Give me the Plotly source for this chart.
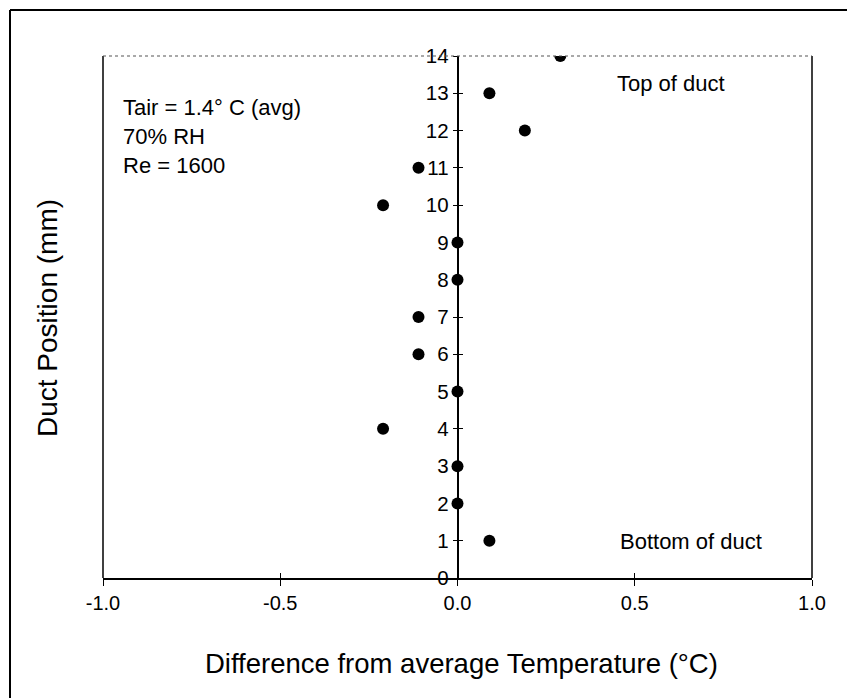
import plotly.graph_objects as go

# Duct positions (mm) and temperature difference from the average (°C)
positions = [14, 13, 12, 11, 10, 9, 8, 7, 6, 5, 4, 3, 2, 1]
temp_diff = [0.29, 0.09, 0.19, -0.11, -0.21, 0.0, 0.0, -0.11, -0.11, 0.0, -0.21, 0.0, 0.0, 0.09]

x_ticks = [-1.0, -0.5, 0.0, 0.5, 1.0]
y_ticks = list(range(0, 15))

W, H = 848, 698
L, R, T, B = 103, 36, 56, 120
PW, PH = W - L - R, H - T - B


def px(xp):
    return (xp - L) / PW


def py(yp):
    return (H - B - yp) / PH


FONT = "Liberation Sans, Arial, Helvetica, sans-serif"

fig = go.Figure()
fig.add_trace(go.Scatter(
    x=temp_diff, y=positions, mode="markers",
    marker=dict(size=12, color="black"),
    showlegend=False, hoverinfo="x+y",
))

axis_common = dict(linecolor="black", linewidth=1.5, showgrid=False, zeroline=False,
                   tickcolor="black", tickwidth=1)

fig.update_layout(
    width=W, height=H,
    margin=dict(l=L, r=R, t=T, b=B),
    paper_bgcolor="white", plot_bgcolor="white",
    font=dict(family=FONT, color="black"),
    xaxis=dict(range=[-1, 1], tickvals=x_ticks, ticktext=[f"{v:.1f}" for v in x_ticks],
               showline=True, ticks="outside", ticklen=6,
               tickfont=dict(size=20), **axis_common),
    xaxis2=dict(range=[-1, 1], tickvals=x_ticks, overlaying="x", anchor="y",
                side="bottom", showline=False, ticks="inside", ticklen=5,
                showticklabels=False, **axis_common),
    yaxis=dict(range=[0, 14], tickvals=y_ticks, anchor="free", position=0.5,
               showline=True, ticks="outside", ticklen=4,
               tickfont=dict(size=20.5), **axis_common),
    yaxis2=dict(range=[0, 14], tickvals=y_ticks, overlaying="y", anchor="free",
                position=0.5, showline=False, ticks="inside", ticklen=4,
                showticklabels=False, **axis_common),
)

# invisible trace so the inside-tick axes are drawn
fig.add_trace(go.Scatter(x=[None], y=[None], xaxis="x2", yaxis="y2",
                         showlegend=False, hoverinfo="skip"))

shapes = [
    # plot frame: left and right sides solid, top dotted
    dict(type="line", xref="paper", yref="paper", x0=0, x1=0, y0=0, y1=1,
         line=dict(color="black", width=1.5)),
    dict(type="line", xref="paper", yref="paper", x0=1, x1=1, y0=0, y1=1,
         line=dict(color="black", width=1.5)),
    dict(type="line", xref="paper", yref="paper", x0=0, x1=1, y0=1, y1=1,
         line=dict(color="#555555", width=1.2, dash="dot")),
    # outer border of the figure
    dict(type="line", xref="paper", yref="paper", x0=px(10), x1=px(10), y0=py(10), y1=py(698),
         line=dict(color="black", width=2)),
    dict(type="line", xref="paper", yref="paper", x0=px(10), x1=px(847), y0=py(10), y1=py(10),
         line=dict(color="black", width=2)),
]
fig.update_layout(shapes=shapes)

notes = [
    ("Tair = 1.4° C (avg)", 121, 107),
    ("70% RH", 121, 136),
    ("Re = 1600", 121, 165),
    ("Top of duct", 615, 83),
    ("Bottom of duct", 618, 541),
]
annotations = [
    dict(text=t, xref="paper", yref="paper", x=px(xp), y=py(yp), xanchor="left",
         yanchor="middle", showarrow=False, font=dict(size=22))
    for t, xp, yp in notes
]
annotations += [
    dict(text="Duct Position (mm)", xref="paper", yref="paper", x=px(47), y=py(318),
         xanchor="center", yanchor="middle", textangle=-90, showarrow=False,
         font=dict(size=28)),
    dict(text="Difference from average Temperature (°C)", xref="paper", yref="paper",
         x=px(461), y=py(663), xanchor="center", yanchor="middle", showarrow=False,
         font=dict(size=27.5)),
]
fig.update_layout(annotations=annotations)

fig.write_html("out.html")
